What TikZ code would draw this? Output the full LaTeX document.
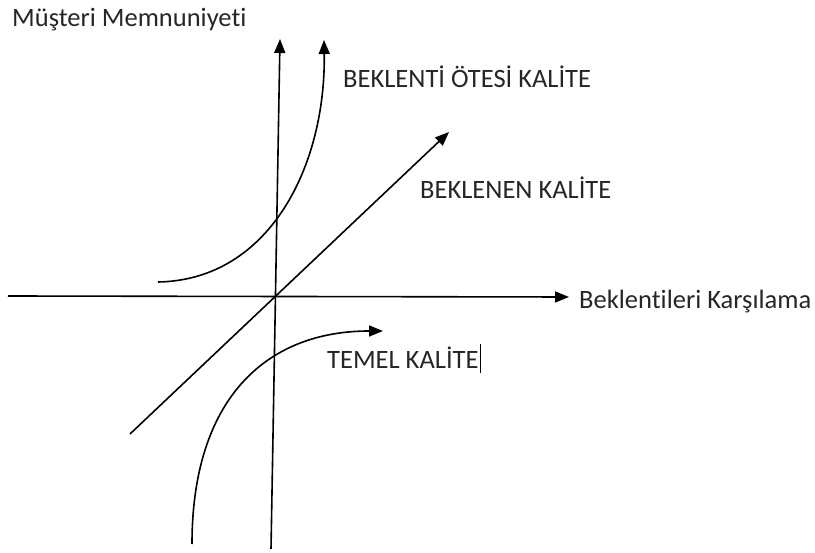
\documentclass[tikz,border=0pt]{standalone}
\usepackage{fontspec}
\setmainfont{Carlito}[Ligatures={NoCommon}, RawFeature={-liga;-clig}]
\usepackage{tikz}
\usetikzlibrary{arrows.meta, positioning}

\begin{document}
\begin{tikzpicture}[
    x=1pt, y=-1pt,
    label/.style={inner sep=0pt, anchor=west, font=\fontsize{26.5}{30}\selectfont, text=black!85},
    axis/.style={line width=1.6pt, -{Triangle[length=14pt, width=11pt]}},
    curve/.style={line width=1.6pt, -{Triangle[length=14pt, width=11pt]}},
    plain/.style={line width=1.6pt}
]
\useasboundingbox (0,0) rectangle (815,553);

% axes
\coordinate (xstart) at (8,296);
\coordinate (xend) at (569,297);
\coordinate (ystart) at (271,549);
\coordinate (yend) at (280,39);

\node[label] (ylabel) at (12,20) {Müşteri Memnuniyeti};
\node[label] (xlabel) at (579,302) {Beklentileri Karşılama};

\draw[axis] (xstart) -- (xend);
\draw[axis] (ystart) -- (yend);

% quality curves
\coordinate (lin1) at (130,434);
\coordinate (lin2) at (449,132);
\coordinate (ote1) at (158,282);
\coordinate (ote2) at (324,40);
\coordinate (tem1) at (192,544);
\coordinate (tem2) at (383,331);

\node[label] (ote) at (343,77) {BEKLENTİ ÖTESİ KALİTE};
\node[label] (bek) at (420,188) {BEKLENEN KALİTE};
\node[label] (tem) at (327,358) {TEMEL KALİTE};

\draw[curve] (lin1) -- (lin2);
\draw[curve] (ote1) .. controls (270,280) and (326,165) .. (ote2);
\draw[curve] (tem1) .. controls (192,400) and (265,331) .. (tem2);

\draw[line width=0.8pt] (tem.east) ++(2,-14) coordinate (cur1) -- ++(0,29) coordinate (cur2);

\end{tikzpicture}
\end{document}
